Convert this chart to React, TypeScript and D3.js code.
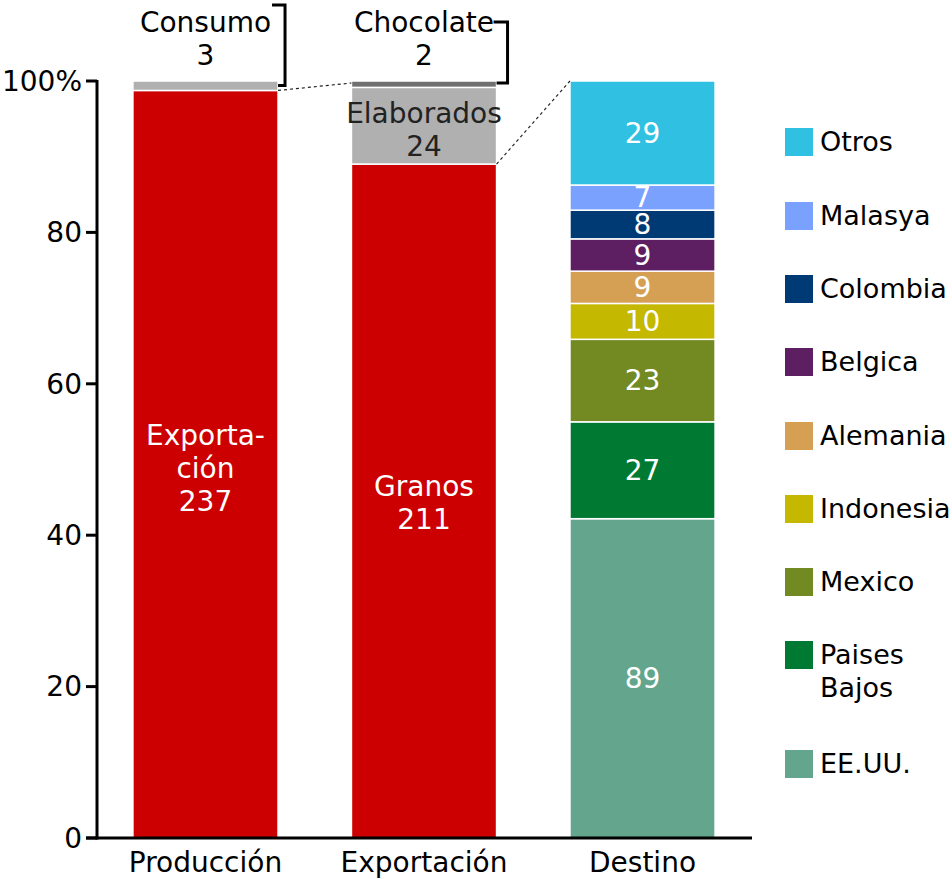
import React from "react";
import * as d3 from "d3";

// categories on the x axis
const categories = ["Producción", "Exportación", "Destino"];

// Producción (thousand t)
const prodNames = ["Exportación", "Consumo"];
const prodValues = [237, 3];

// Exportación split
const expNames = ["Granos", "Elaborados", "Chocolate"];
const expValues = [211, 24, 2];

// Destino of the grains, bottom to top
const destNames = ["EE.UU.", "Paises Bajos", "Mexico", "Indonesia", "Alemania", "Belgica", "Colombia", "Malasya", "Otros"];
const destValues = [89, 27, 23, 10, 9, 9, 8, 7, 29];
const destColors = ["#63a68d", "#007a33", "#738a22", "#c4b800", "#d6a054", "#5e1e62", "#003a75", "#7ba1ff", "#30c0e2"];

const yTicks = [0, 20, 40, 60, 80, 100];

const FONT = "DejaVu Sans, Verdana, sans-serif";
const FS = 28;

type Seg = { name: string; value: number; y0: number; y1: number };

const stack = (names: string[], values: number[]): Seg[] => {
  const total = d3.sum(values);
  let acc = 0;
  return names.map((name, i) => {
    const y0 = (acc / total) * 100;
    acc += values[i];
    return { name, value: values[i], y0, y1: (acc / total) * 100 };
  });
};

const App = () => {
  const width = 952;
  const height = 879;

  const x = d3.scaleBand().domain(categories).range([96, 752]).paddingInner(0.336).paddingOuter(0.169);
  const y = d3.scaleLinear().domain([0, 100]).range([838, 81]);
  const bw = x.bandwidth();

  const prod = stack(prodNames, prodValues);
  const exp = stack(expNames, expValues);
  const dest = stack(destNames, destValues);

  const xP = x("Producción")!;
  const xE = x("Exportación")!;
  const xD = x("Destino")!;
  const cx = (c: string) => x(c)! + bw / 2;

  const rect = (xx: number, s: Seg, fill: string, key: string) => (
    <rect key={key} x={xx} y={y(s.y1)} width={bw} height={y(s.y0) - y(s.y1)} fill={fill} stroke="#fff" strokeWidth={1.5} />
  );

  const lines = (xc: number, yc: number, txt: string[], fill: string, key: string, anchor = "middle", fs = FS) => {
    const lh = 33;
    const start = yc - ((txt.length - 1) * lh) / 2;
    return (
      <text key={key} x={xc} textAnchor={anchor} fill={fill} fontSize={fs} fontFamily={FONT}>
        {txt.map((t, i) => (
          <tspan key={i} x={xc} y={start + i * lh} dy="0.35em">{t}</tspan>
        ))}
      </text>
    );
  };

  const legendY = [142, 216, 289, 362, 436, 509, 582, 655, 764];
  const legendOrder = [...destNames].reverse();
  const legendColors = [...destColors].reverse();

  return (
    <svg width={width} height={height} style={{ position: "absolute", left: 0, top: 0 }}>
      {/* Producción */}
      {rect(xP, prod[0], "#cc0000", "p0")}
      {rect(xP, prod[1], "#b0b0b0", "p1")}
      {lines(cx("Producción"), (y(prod[0].y0) + y(prod[0].y1)) / 2 + 4, ["Exporta-", "ción", String(prodValues[0])], "#fff", "pl")}
      {lines(cx("Producción"), 39, ["Consumo", String(prodValues[1])], "#000", "pc")}

      {/* Exportación */}
      {rect(xE, exp[0], "#cc0000", "e0")}
      {rect(xE, exp[1], "#b0b0b0", "e1")}
      {rect(xE, exp[2], "#707070", "e2")}
      {lines(cx("Exportación"), (y(exp[0].y0) + y(exp[0].y1)) / 2 + 2, ["Granos", String(expValues[0])], "#fff", "el0")}
      {lines(cx("Exportación"), (y(exp[1].y0) + y(exp[1].y1)) / 2 + 4, ["Elaborados", String(expValues[1])], "#222", "el1")}
      {lines(cx("Exportación"), 39, ["Chocolate", String(expValues[2])], "#000", "ec")}

      {/* Destino */}
      {dest.map((s, i) => rect(xD, s, destColors[i], "d" + i))}
      {dest.map((s, i) => lines(cx("Destino"), (y(s.y0) + y(s.y1)) / 2, [String(s.value)], "#fff", "dl" + i))}

      {/* brackets */}
      <path d={`M${xP + bw - 6},5 H${xP + bw + 7} V${y(99.4)} H${xP + bw}`} fill="none" stroke="#000" strokeWidth={3} />
      <path d={`M${xE + bw - 3},22 H${xE + bw + 11} V${y(99.75)} H${xE + bw}`} fill="none" stroke="#000" strokeWidth={3} />

      {/* dotted connectors */}
      <line x1={xP + bw} y1={y(prod[0].y1)} x2={xE} y2={y(100) + 2} stroke="#222" strokeWidth={1.2} strokeDasharray="3,3" />
      <line x1={xE + bw} y1={y(exp[0].y1)} x2={xD} y2={y(100)} stroke="#222" strokeWidth={1.2} strokeDasharray="3,3" />

      {/* y axis */}
      <line x1={97} x2={97} y1={y(100) - 1} y2={y(0) + 1.5} stroke="#000" strokeWidth={3} />
      {yTicks.map((t) => (
        <g key={t}>
          <line x1={86} x2={97} y1={y(t)} y2={y(t)} stroke="#000" strokeWidth={3} />
          <text x={82} y={y(t)} dy="0.35em" textAnchor="end" fontSize={FS} fontFamily={FONT} fill="#000">
            {t === 100 ? "100%" : t}
          </text>
        </g>
      ))}

      {/* x axis */}
      <line x1={86} x2={752} y1={y(0)} y2={y(0)} stroke="#000" strokeWidth={3} />
      {categories.map((c) => (
        <text key={c} x={cx(c)} y={872} textAnchor="middle" fontSize={FS} fontFamily={FONT} fill="#000">
          {c}
        </text>
      ))}

      {/* legend */}
      {legendOrder.map((n, i) => (
        <g key={n}>
          <rect x={785} y={legendY[i] - 14} width={28} height={28} fill={legendColors[i]} />
          {lines(820, legendY[i] + (n === "Paises Bajos" ? 16 : 0), n === "Paises Bajos" ? ["Paises", "Bajos"] : [n], "#000", "lg" + i, "start", 27)}
        </g>
      ))}
    </svg>
  );
};

export default App;
